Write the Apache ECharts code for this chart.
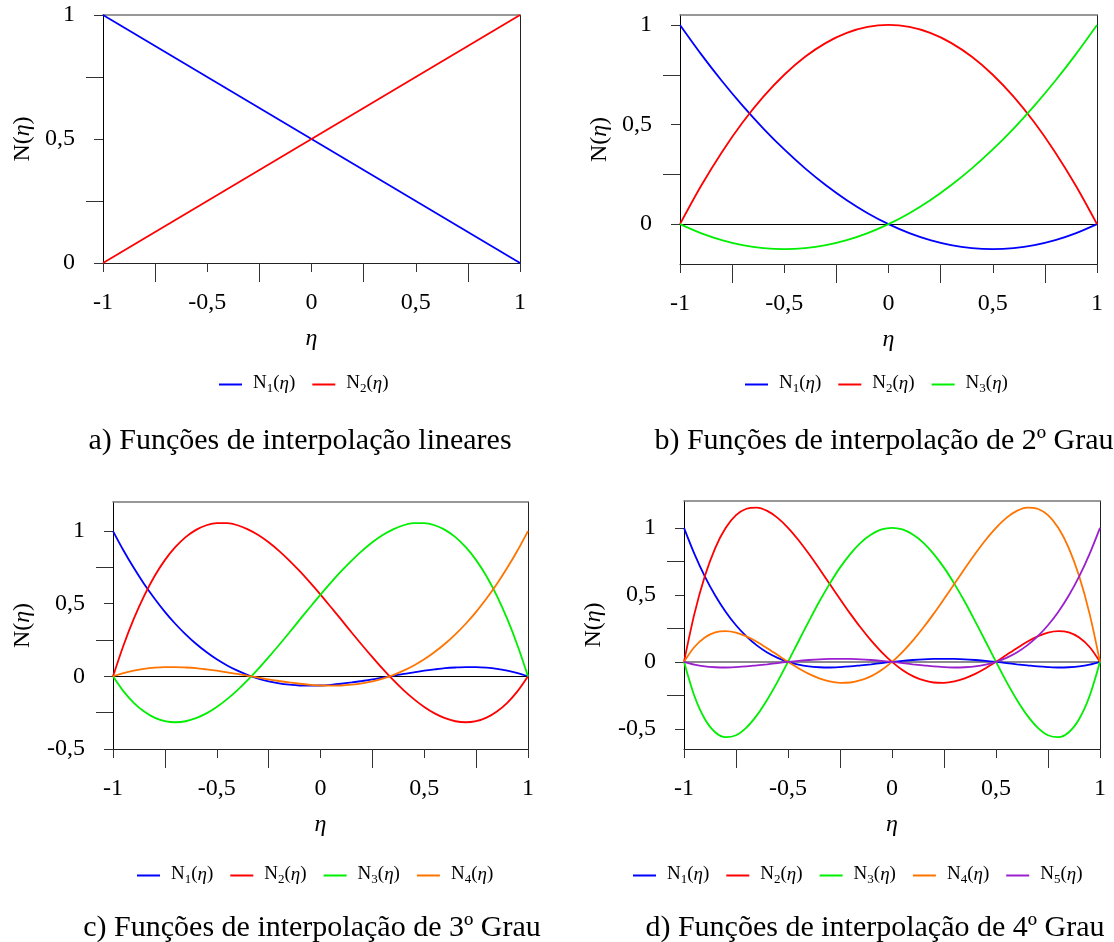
<!DOCTYPE html>
<html><head><meta charset="utf-8">
<script src="https://cdn.jsdelivr.net/npm/echarts@6/dist/echarts.min.js"></script>
<style>html,body{margin:0;padding:0;background:#fff}#c{width:1114px;height:942px}</style>
</head><body><div id="c"></div><script>
// ---------- data ----------
const etaA = [-1, 1];
const aN1 = [1, 0];
const aN2 = [0, 1];

const eta21 = [-1,-0.9,-0.8,-0.7,-0.6,-0.5,-0.4,-0.3,-0.2,-0.1,0,0.1,0.2,0.3,0.4,0.5,0.6,0.7,0.8,0.9,1];
const eta41 = [-1,-0.95,-0.9,-0.85,-0.8,-0.75,-0.7,-0.65,-0.6,-0.55,-0.5,-0.45,-0.4,-0.35,-0.3,-0.25,-0.2,-0.15,-0.1,-0.05,0,
               0.05,0.1,0.15,0.2,0.25,0.3,0.35,0.4,0.45,0.5,0.55,0.6,0.65,0.7,0.75,0.8,0.85,0.9,0.95,1];

const bN1 = [1,0.855,0.72,0.595,0.48,0.375,0.28,0.195,0.12,0.055,0,-0.045,-0.08,-0.105,-0.12,-0.125,-0.12,-0.105,-0.08,-0.045,0];
const bN2 = [0,0.19,0.36,0.51,0.64,0.75,0.84,0.91,0.96,0.99,1,0.99,0.96,0.91,0.84,0.75,0.64,0.51,0.36,0.19,0];
const bN3 = [0,-0.045,-0.08,-0.105,-0.12,-0.125,-0.12,-0.105,-0.08,-0.045,0,0.055,0.12,0.195,0.28,0.375,0.48,0.595,0.72,0.855,1];

const cN1 = [1,0.868,0.747,0.636,0.536,0.444,0.362,0.289,0.224,0.167,0.117,0.075,0.039,0.009,-0.015,-0.034,-0.048,-0.057,-0.063,-0.064,-0.063,
             -0.058,-0.051,-0.042,-0.032,-0.021,-0.008,0.004,0.017,0.028,0.039,0.048,0.056,0.061,0.064,0.064,0.060,0.052,0.039,0.022,0];
const cN2 = [0,0.211,0.395,0.554,0.689,0.800,0.889,0.958,1.008,1.040,1.055,1.054,1.040,1.012,0.973,0.923,0.864,0.797,0.724,0.645,0.563,
             0.477,0.390,0.302,0.216,0.132,0.051,-0.025,-0.095,-0.157,-0.211,-0.255,-0.288,-0.309,-0.316,-0.308,-0.284,-0.242,-0.182,-0.102,0];
const cN3 = [0,-0.102,-0.182,-0.242,-0.284,-0.308,-0.316,-0.309,-0.288,-0.255,-0.211,-0.157,-0.095,-0.025,0.051,0.132,0.216,0.302,0.390,0.477,0.563,
             0.645,0.724,0.797,0.864,0.923,0.973,1.012,1.040,1.054,1.055,1.040,1.008,0.958,0.889,0.800,0.689,0.554,0.395,0.211,0];
const cN4 = [0,0.022,0.039,0.052,0.060,0.064,0.064,0.061,0.056,0.048,0.039,0.028,0.017,0.004,-0.008,-0.021,-0.032,-0.042,-0.051,-0.058,-0.063,
             -0.064,-0.063,-0.057,-0.048,-0.034,-0.015,0.009,0.039,0.075,0.117,0.167,0.224,0.289,0.362,0.444,0.536,0.636,0.747,0.868,1];

const dN1 = [1,0.806,0.638,0.495,0.374,0.273,0.190,0.123,0.070,0.030,0,-0.021,-0.034,-0.040,-0.042,-0.039,-0.034,-0.026,-0.018,-0.009,0,
             0.008,0.014,0.019,0.022,0.023,0.022,0.019,0.014,0.008,0,-0.009,-0.018,-0.026,-0.034,-0.039,-0.042,-0.040,-0.034,-0.021,0];
const dN2 = [0,0.358,0.638,0.849,0.998,1.094,1.142,1.151,1.126,1.074,1.0,0.909,0.806,0.696,0.582,0.469,0.358,0.254,0.158,0.073,0,
             -0.060,-0.106,-0.137,-0.154,-0.156,-0.146,-0.123,-0.090,-0.048,0,0.051,0.102,0.150,0.190,0.219,0.230,0.220,0.182,0.111,0];
const dN3 = [0,-0.255,-0.426,-0.525,-0.562,-0.547,-0.490,-0.399,-0.282,-0.147,0,0.152,0.302,0.448,0.582,0.703,0.806,0.890,0.950,0.988,1,
             0.988,0.950,0.890,0.806,0.703,0.582,0.448,0.302,0.152,0,-0.147,-0.282,-0.399,-0.490,-0.547,-0.562,-0.525,-0.426,-0.255,0];
const dN4 = [0,0.111,0.182,0.220,0.230,0.219,0.190,0.150,0.102,0.051,0,-0.048,-0.090,-0.123,-0.146,-0.156,-0.154,-0.137,-0.106,-0.060,0,
             0.073,0.158,0.254,0.358,0.469,0.582,0.696,0.806,0.909,1.0,1.074,1.126,1.151,1.142,1.094,0.998,0.849,0.638,0.358,0];
const dN5 = [0,-0.021,-0.034,-0.040,-0.042,-0.039,-0.034,-0.026,-0.018,-0.009,0,0.008,0.014,0.019,0.022,0.023,0.022,0.019,0.014,0.008,0,
             -0.009,-0.018,-0.026,-0.034,-0.039,-0.042,-0.040,-0.034,-0.021,0,0.030,0.070,0.123,0.190,0.273,0.374,0.495,0.638,0.806,1];

const xTickLabels = [-1,-0.5,0,0.5,1];
const xMinorTicks = [-0.75,-0.25,0.25,0.75];
const yTickLabelsAB = [0,0.5,1];
const yMinorTicksAB = [0.25,0.75];
const yTickLabelsCD = [-0.5,0,0.5,1];
const yMinorTicksCD = [-0.25,0.25,0.75];

const captions = [
  'a) Funções de interpolação lineares',
  'b) Funções de interpolação de 2º Grau',
  'c) Funções de interpolação de 3º Grau',
  'd) Funções de interpolação de 4º Grau'
];
const colors = ['#0000ff','#ff0000','#00ee00','#ff7400','#9a1fcf'];

// ---------- layout ----------
const FONT = '"Liberation Serif","Times New Roman",serif';
const panels = [
  {grid:{left:103, top:15, width:417, height:248}, yMin:0, yMax:1, yl:yTickLabelsAB, ym:yMinorTicksAB, nameGap:68, zero:null,
   x:etaA, ys:[aN1,aN2], legendLeft:219, legendTop:374, cap:{left:300, top:426}},
  {grid:{left:680, top:15, width:417, height:249}, yMin:-0.2, yMax:1.05, yl:yTickLabelsAB, ym:yMinorTicksAB, nameGap:68, zero:{color:'#000', width:1},
   x:eta21, ys:[bN1,bN2,bN3], legendLeft:745, legendTop:374, cap:{left:884, top:426}},
  {grid:{left:113, top:502, width:415, height:247}, yMin:-0.5, yMax:1.2, yl:yTickLabelsCD, ym:yMinorTicksCD, nameGap:78, zero:{color:'#000', width:1},
   x:eta41, ys:[cN1,cN2,cN3,cN4], legendLeft:137, legendTop:865, cap:{left:312, top:913}},
  {grid:{left:684, top:501, width:416, height:248}, yMin:-0.65, yMax:1.2, yl:yTickLabelsCD, ym:yMinorTicksCD, nameGap:78, zero:{color:'#666', width:1.5},
   x:eta41, ys:[dN1,dN2,dN3,dN4,dN5], legendLeft:633, legendTop:865, cap:{left:875, top:913}}
];

const fmt = v => String(v).replace('.', ',');
const grid = [], xAxis = [], yAxis = [], series = [], legend = [], title = [];

panels.forEach((p, gi) => {
  grid.push(Object.assign({containLabel:false}, p.grid));
  const xi = xAxis.length, yi = yAxis.length;
  xAxis.push({
    gridIndex:gi, type:'value', min:-1, max:1, interval:0.5, position:'bottom',
    axisLine:{show:true, onZero:false, lineStyle:{color:'#222', width:1}},
    axisTick:{show:true, length:9, customValues:xTickLabels, lineStyle:{color:'#333', width:1}},
    axisLabel:{customValues:xTickLabels, margin:28, fontSize:24, fontFamily:FONT, color:'#000', formatter:fmt},
    splitLine:{show:false},
    name:'η', nameLocation:'middle', nameGap:64,
    nameTextStyle:{fontSize:24, fontStyle:'italic', fontFamily:FONT, color:'#000'}
  });
  xAxis.push({
    gridIndex:gi, type:'value', min:-1, max:1, position:'bottom',
    axisLine:{show:false, onZero:false},
    axisTick:{show:true, length:19, customValues:xMinorTicks, lineStyle:{color:'#333', width:1}},
    axisLabel:{show:false}, splitLine:{show:false}
  });
  xAxis.push({
    gridIndex:gi, type:'value', min:-1, max:1, position:'top',
    axisLine:{show:true, onZero:false, lineStyle:{color:'#777', width:1.5}},
    axisTick:{show:false}, axisLabel:{show:false}, splitLine:{show:false}
  });
  yAxis.push({
    gridIndex:gi, type:'value', min:p.yMin, max:p.yMax, position:'left',
    axisLine:{show:true, onZero:false, lineStyle:{color:'#000', width:1}},
    axisTick:{show:true, length:9, customValues:p.yl, lineStyle:{color:'#333', width:1}},
    axisLabel:{customValues:p.yl, margin:28, fontSize:24, fontFamily:FONT, color:'#000', formatter:fmt},
    splitLine:{show:false},
    name:'{n|N(}{e|η}{n|)}', nameLocation:'middle', nameGap:p.nameGap, nameRotate:90,
    nameTextStyle:{fontSize:24, fontFamily:FONT, color:'#000',
      rich:{n:{fontSize:24, fontFamily:FONT, color:'#000'}, e:{fontSize:24, fontFamily:FONT, fontStyle:'italic', color:'#000'}}}
  });
  yAxis.push({
    gridIndex:gi, type:'value', min:p.yMin, max:p.yMax, position:'left',
    axisLine:{show:false, onZero:false},
    axisTick:{show:true, length:17, customValues:p.ym, lineStyle:{color:'#333', width:1}},
    axisLabel:{show:false}, splitLine:{show:false}
  });
  yAxis.push({
    gridIndex:gi, type:'value', min:p.yMin, max:p.yMax, position:'right',
    axisLine:{show:true, onZero:false, lineStyle:{color:'#222', width:1}},
    axisTick:{show:false}, axisLabel:{show:false}, splitLine:{show:false}
  });
  const names = [];
  p.ys.forEach((vals, k) => {
    const nm = 'abcd'[gi] + (k + 1);
    names.push(nm);
    const s = {
      name:nm, type:'line', xAxisIndex:xi, yAxisIndex:yi,
      data:p.x.map((x, j) => [x, vals[j]]),
      showSymbol:false, symbol:'none', smooth:0.3,
      lineStyle:{color:colors[k], width:1.8}, itemStyle:{color:colors[k]},
      z:3
    };
    if (k === 0 && p.zero) {
      s.markLine = {silent:true, symbol:['none','none'], label:{show:false},
        lineStyle:{color:p.zero.color, width:p.zero.width, type:'solid'}, data:[{yAxis:0}], z:1};
    }
    series.push(s);
  });
  legend.push({
    data:names, left:p.legendLeft, top:p.legendTop, orient:'horizontal', padding:0,
    icon:'rect', itemWidth:23, itemHeight:2, itemGap:17, selectedMode:false,
    formatter:nm => '{sp|}{n|N}{s|' + nm.slice(1) + '}{n|(}{e|η}{n|)}',
    textStyle:{fontFamily:FONT, fontSize:19, color:'#000',
      rich:{
        sp:{width:6},
        n:{fontSize:19, fontFamily:FONT, color:'#000', lineHeight:21, verticalAlign:'top'},
        e:{fontSize:19, fontFamily:FONT, fontStyle:'italic', color:'#000', lineHeight:21, verticalAlign:'top'},
        s:{fontSize:13, fontFamily:FONT, color:'#000', lineHeight:13, verticalAlign:'bottom'}
      }}
  });
  title.push({
    text:captions[gi], left:p.cap.left, top:p.cap.top, textAlign:'center', padding:0,
    textStyle:{fontSize:30, fontWeight:'normal', fontFamily:FONT, color:'#000'}
  });
});

const chart = echarts.init(document.getElementById('c'), null, {renderer:'canvas'});
chart.setOption({animation:false, backgroundColor:'#fff', title, grid, xAxis, yAxis, legend, series});
</script></body></html>
